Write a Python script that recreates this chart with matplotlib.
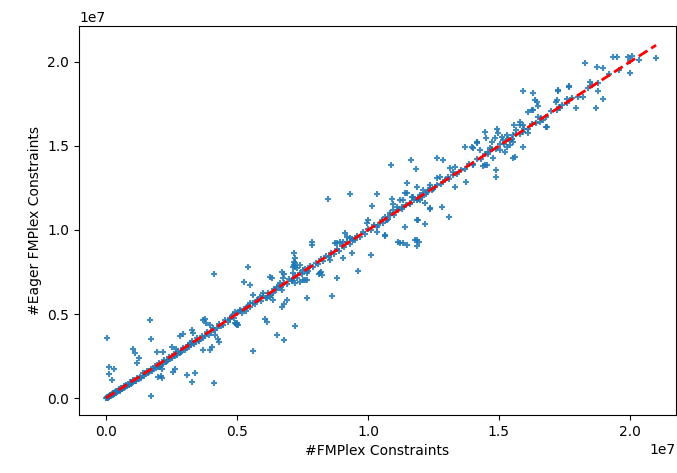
import matplotlib.pyplot as plt
import numpy as np

# constraint counts, in units of 1e7 (x = #FMPlex, y = #Eager FMPlex)
near_origin = [
    (0.000, 0.000), (0.002, 0.004), (0.004, 0.001), (0.006, 0.008), (0.008, 0.003),
    (0.010, 0.012), (0.012, 0.006), (0.014, 0.010), (0.016, 0.020), (0.018, 0.012),
    (0.020, 0.016), (0.022, 0.024), (0.025, 0.018), (0.027, 0.030), (0.030, 0.024),
    (0.032, 0.022), (0.035, 0.036), (0.038, 0.030), (0.040, 0.042), (0.043, 0.034),
    (0.046, 0.040), (0.049, 0.052), (0.052, 0.044), (0.055, 0.048), (0.058, 0.060),
    (0.061, 0.052), (0.064, 0.058), (0.067, 0.070), (0.070, 0.061), (0.074, 0.068),
    (0.078, 0.080), (0.082, 0.072), (0.086, 0.079), (0.090, 0.094), (0.095, 0.085),
    (0.100, 0.092), (0.105, 0.108), (0.110, 0.099), (0.115, 0.104), (0.120, 0.118),
    (0.125, 0.112), (0.130, 0.126), (0.135, 0.122), (0.140, 0.146), (0.145, 0.132),
    (0.150, 0.141), (0.155, 0.160), (0.160, 0.147), (0.165, 0.152), (0.170, 0.175),
    (0.175, 0.163), (0.180, 0.170), (0.186, 0.190), (0.192, 0.178), (0.198, 0.186),
    (0.204, 0.210), (0.210, 0.196), (0.216, 0.205), (0.222, 0.226), (0.228, 0.212),
    (0.234, 0.222), (0.240, 0.246), (0.246, 0.232), (0.252, 0.240), (0.258, 0.262),
    (0.264, 0.250), (0.270, 0.258), (0.276, 0.282), (0.282, 0.268), (0.288, 0.276),
    (0.294, 0.300), (0.300, 0.288), (0.306, 0.296), (0.312, 0.318), (0.318, 0.305),
    (0.324, 0.314), (0.330, 0.338), (0.336, 0.322), (0.342, 0.332), (0.348, 0.355),
    (0.354, 0.340), (0.360, 0.352), (0.366, 0.372), (0.372, 0.360), (0.378, 0.368),
    (0.385, 0.392), (0.392, 0.378), (0.400, 0.390), (0.408, 0.414), (0.416, 0.402),
    (0.424, 0.415), (0.432, 0.440), (0.440, 0.428), (0.448, 0.436), (0.456, 0.462),
    (0.464, 0.452), (0.472, 0.468), (0.480, 0.486), (0.488, 0.476),
]

mid_band = [
    (0.496, 0.440), (0.500, 0.446), (0.504, 0.436), (0.510, 0.516), (0.518, 0.506),
    (0.526, 0.532), (0.534, 0.520), (0.542, 0.548), (0.550, 0.540), (0.560, 0.566),
    (0.570, 0.560), (0.580, 0.586), (0.590, 0.578), (0.600, 0.606), (0.610, 0.598),
    (0.620, 0.624), (0.630, 0.616), (0.640, 0.648), (0.650, 0.640), (0.660, 0.664),
    (0.670, 0.660), (0.680, 0.686), (0.690, 0.676), (0.700, 0.706), (0.710, 0.698),
    (0.720, 0.724), (0.730, 0.716), (0.740, 0.744), (0.750, 0.740), (0.760, 0.768),
    (0.770, 0.756), (0.780, 0.786), (0.790, 0.778), (0.800, 0.806), (0.810, 0.796),
    (0.820, 0.826), (0.830, 0.818), (0.840, 0.846), (0.850, 0.838), (0.860, 0.866),
    (0.870, 0.858), (0.880, 0.886), (0.890, 0.876), (0.900, 0.906), (0.910, 0.900),
    (0.920, 0.926), (0.930, 0.916), (0.940, 0.946), (0.950, 0.940), (0.960, 0.966),
    (0.970, 0.958), (0.980, 0.986), (0.990, 0.978), (1.000, 1.006), (1.010, 1.000),
    (1.025, 1.030), (1.040, 1.032), (1.055, 1.060), (1.070, 1.062), (1.085, 1.090),
    (1.100, 1.092), (1.115, 1.120), (1.130, 1.122), (1.145, 1.150), (1.160, 1.152),
    (1.175, 1.180), (1.190, 1.182), (1.205, 1.210), (1.220, 1.212), (1.235, 1.240),
    (1.250, 1.244), (1.265, 1.270), (1.280, 1.272), (1.295, 1.300), (1.310, 1.304),
    (1.325, 1.330), (1.340, 1.334), (1.355, 1.360), (1.370, 1.364), (1.385, 1.390),
    (1.400, 1.394), (1.415, 1.420), (1.430, 1.424), (1.445, 1.450), (1.460, 1.454),
    (1.475, 1.480), (1.490, 1.484), (1.505, 1.510), (1.520, 1.514), (1.535, 1.540),
    (1.550, 1.544), (1.565, 1.570), (1.580, 1.574), (1.595, 1.600), (1.610, 1.604),
    (1.625, 1.630), (1.640, 1.634), (1.660, 1.666), (1.680, 1.674), (1.700, 1.706),
    (1.720, 1.714), (1.740, 1.746), (1.760, 1.754), (1.780, 1.786), (1.800, 1.794),
    (1.840, 1.846), (1.880, 1.874), (1.920, 1.926), (1.960, 1.954), (2.000, 2.006),
]

low_spread = [
    (0.003, 0.357), (0.168, 0.464), (0.172, 0.351), (0.103, 0.292), (0.111, 0.268),
    (0.126, 0.238), (0.118, 0.208), (0.011, 0.185), (0.031, 0.173), (0.011, 0.143),
    (0.023, 0.107), (0.172, 0.012), (0.282, 0.369), (0.294, 0.381), (0.195, 0.274),
    (0.218, 0.274), (0.198, 0.125), (0.256, 0.155), (0.263, 0.173), (0.309, 0.137),
    (0.328, 0.095), (0.340, 0.149), (0.206, 0.185), (0.214, 0.173), (0.252, 0.304),
    (0.267, 0.292), (0.321, 0.327), (0.412, 0.738), (0.542, 0.780), (0.527, 0.690),
    (0.550, 0.673), (0.607, 0.470), (0.615, 0.452), (0.561, 0.280), (0.412, 0.089),
    (0.370, 0.464), (0.397, 0.435), (0.328, 0.405), (0.332, 0.387), (0.416, 0.375),
    (0.427, 0.351), (0.370, 0.286), (0.397, 0.286), (0.405, 0.304), (0.492, 0.512),
    (0.210, 0.131), (0.214, 0.119), (0.378, 0.470), (0.382, 0.446), (0.431, 0.333),
    (0.637, 0.583), (0.653, 0.661), (0.664, 0.685), (0.676, 0.714), (0.672, 0.643),
    (0.637, 0.625), (0.626, 0.601), (0.615, 0.595), (0.599, 0.625), (0.588, 0.601),
    (0.576, 0.583), (0.561, 0.613), (0.550, 0.565), (0.538, 0.542), (0.511, 0.524),
    (0.500, 0.506), (0.485, 0.494), (0.473, 0.476), (0.492, 0.446), (0.500, 0.435),
]

mid_spread = [
    (0.721, 0.804), (0.721, 0.780), (0.672, 0.750), (0.679, 0.738), (0.626, 0.720),
    (0.634, 0.714), (0.691, 0.583), (0.679, 0.560), (0.672, 0.542), (0.721, 0.429),
    (0.653, 0.375), (0.679, 0.345), (0.847, 1.185), (0.931, 1.214), (1.034, 1.214),
    (1.015, 1.143), (1.092, 1.185), (1.095, 1.155), (1.065, 1.077), (1.076, 1.065),
    (1.034, 0.988), (1.065, 0.970), (1.115, 0.929), (1.011, 0.851), (0.962, 0.756),
    (0.939, 0.863), (0.905, 0.833), (0.855, 0.821), (0.874, 0.923), (0.893, 0.929),
    (0.786, 0.929), (0.786, 0.911), (0.718, 0.863), (0.718, 0.810), (0.718, 0.792),
    (0.817, 0.744), (0.824, 0.732), (0.820, 0.750), (0.813, 0.738), (0.767, 0.762),
    (0.767, 0.702), (0.752, 0.702), (0.882, 0.714), (0.863, 0.607), (0.767, 0.595),
    (0.721, 0.833), (0.714, 0.780), (0.729, 0.774), (0.740, 0.792), (0.752, 0.762),
    (0.767, 0.744), (0.714, 0.744), (0.710, 0.702), (0.721, 0.685), (0.740, 0.690),
    (0.760, 0.702), (0.882, 0.923), (0.905, 0.929), (0.920, 0.958), (0.931, 0.952),
    (0.943, 0.940), (0.912, 0.982), (0.996, 1.042), (1.000, 1.060), (1.034, 1.018),
    (1.057, 1.042), (1.072, 1.060), (1.084, 1.101), (1.095, 1.119), (1.111, 1.137),
    (1.134, 1.179), (1.149, 1.220), (1.168, 1.196), (1.187, 1.179), (1.206, 1.196),
    (1.225, 1.226), (1.237, 1.250), (1.088, 1.387), (1.164, 1.417), (1.183, 1.363),
    (1.263, 1.429), (1.286, 1.417), (1.374, 1.286), (1.332, 1.256), (1.282, 1.137),
    (1.309, 1.077), (1.237, 1.125), (1.187, 1.060), (1.191, 1.060), (1.218, 1.036),
    (1.141, 1.018), (1.065, 0.964), (1.122, 0.923), (1.134, 0.923), (1.149, 0.911),
    (1.179, 0.940), (1.187, 0.940), (1.195, 0.929), (1.187, 0.905), (1.275, 1.315),
    (1.263, 1.310), (1.256, 1.256), (1.244, 1.238), (1.237, 1.268), (1.210, 1.238),
    (1.198, 1.208), (1.187, 1.256), (1.172, 1.196), (1.149, 1.280), (1.141, 1.220),
    (1.122, 1.179), (1.130, 1.137), (1.160, 1.161), (1.198, 1.179), (1.218, 1.161),
    (1.237, 1.131), (1.332, 1.375), (1.313, 1.369), (1.324, 1.345), (1.305, 1.315),
]

high_spread = [
    (1.370, 1.494), (1.397, 1.494), (1.416, 1.518), (1.450, 1.548), (1.447, 1.387),
    (1.454, 1.387), (1.439, 1.381), (1.489, 1.357), (1.489, 1.315), (1.416, 1.524),
    (1.427, 1.476), (1.447, 1.583), (1.491, 1.599), (1.497, 1.575), (1.510, 1.555),
    (1.485, 1.546), (1.472, 1.526), (1.517, 1.536), (1.529, 1.565), (1.542, 1.536),
    (1.542, 1.506), (1.555, 1.526), (1.555, 1.565), (1.529, 1.496), (1.523, 1.466),
    (1.504, 1.476), (1.466, 1.486), (1.459, 1.466), (1.478, 1.427), (1.593, 1.585),
    (1.612, 1.579), (1.415, 1.526), (1.401, 1.488), (1.401, 1.387), (1.567, 1.595),
    (1.580, 1.625), (1.553, 1.429), (1.561, 1.435), (1.557, 1.625), (1.592, 1.494),
    (1.580, 1.643), (1.592, 1.625), (1.592, 1.827), (1.630, 1.815), (1.725, 1.827),
    (1.767, 1.857), (1.645, 1.762), (1.649, 1.738), (1.718, 1.762), (1.729, 1.732),
    (1.683, 1.613), (1.611, 1.702), (1.626, 1.714), (1.637, 1.774), (1.630, 1.714),
    (1.649, 1.673), (1.656, 1.643), (1.679, 1.613), (1.668, 1.655), (1.725, 1.833),
    (1.721, 1.774), (1.733, 1.726), (1.760, 1.780), (1.935, 2.030), (1.950, 2.030),
    (1.992, 2.030), (2.008, 2.036), (2.034, 2.012), (2.100, 2.024), (2.000, 1.935),
    (1.828, 1.994), (1.874, 1.970), (1.897, 1.964), (1.767, 1.851), (1.821, 1.792),
    (1.897, 1.780), (1.878, 1.827), (1.794, 1.726), (1.870, 1.726), (1.855, 1.863),
    (1.847, 1.881),
]

scale = 1e7
pts = np.array(near_origin + mid_band + low_spread + mid_spread + high_spread) * scale
x = pts[:, 0]
y = pts[:, 1]

fig = plt.figure(figsize=(6.77, 4.73), dpi=100)
ax = fig.add_axes([79 / 677, 58 / 473, 597 / 677, 389 / 473])

ax.scatter(x, y, marker='+', s=14, linewidths=1.5, color='#1f77b4', alpha=0.85)

# identity line
top = max(x.max(), y.max())
ax.plot([0, top], [0, top], 'r--', lw=2)

ax.set_xlim(-0.103e7, 2.176e7)
ax.set_ylim(-0.101e7, 2.214e7)
ax.set_xlabel('#FMPlex Constraints')
ax.set_ylabel('#Eager FMPlex Constraints')

fig.savefig('out.png', dpi=100)
